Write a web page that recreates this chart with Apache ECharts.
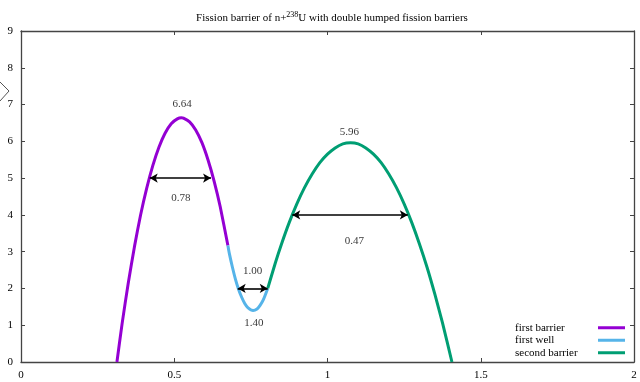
<!DOCTYPE html>
<html>
<head>
<meta charset="utf-8">
<script src="https://cdn.jsdelivr.net/npm/echarts@6/dist/echarts.min.js"></script>
<style>
  html, body { margin: 0; padding: 0; background: #fff; }
  #content { width: 640px; height: 382px; }
</style>
</head>
<body>
<div id="content"></div>
<script>
// curve points [x, energy]
var firstBarrier = [
  [0.313, 0], [0.33, 1.05], [0.35, 2.15], [0.37, 3.13], [0.39, 3.99], [0.41, 4.72],
  [0.43, 5.34], [0.45, 5.84], [0.47, 6.22], [0.49, 6.48], [0.51, 6.61], [0.523, 6.64],
  [0.53, 6.63], [0.55, 6.53], [0.57, 6.31], [0.59, 5.97], [0.61, 5.50], [0.63, 4.92],
  [0.65, 4.22], [0.675, 3.17]
];
var firstWell = [
  [0.675, 3.17], [0.68, 2.94], [0.69, 2.57], [0.70, 2.24], [0.71, 1.97], [0.72, 1.76],
  [0.73, 1.59], [0.74, 1.48], [0.757, 1.40], [0.77, 1.44], [0.78, 1.54], [0.79, 1.68],
  [0.805, 2.00]
];
var secondBarrier = [
  [0.805, 2.00], [0.83, 2.70], [0.85, 3.21], [0.875, 3.79], [0.90, 4.30], [0.925, 4.74],
  [0.95, 5.11], [0.975, 5.42], [1.0, 5.65], [1.025, 5.82], [1.05, 5.93], [1.075, 5.96],
  [1.10, 5.93], [1.125, 5.82], [1.15, 5.65], [1.175, 5.42], [1.20, 5.11], [1.225, 4.74],
  [1.25, 4.30], [1.275, 3.79], [1.30, 3.21], [1.325, 2.57], [1.35, 1.85], [1.375, 1.07],
  [1.406, 0]
];
// width arrows [x1, x2, y]
var arrows = [
  [0.42, 0.62, 5],
  [0.707, 0.805, 2],
  [0.885, 1.262, 4]
];
// annotation texts [x, y, text]
var notes = [
  [0.526, 7.02, "6.64"],
  [0.522, 4.45, "0.78"],
  [0.756, 2.48, "1.00"],
  [0.76, 1.06, "1.40"],
  [1.071, 6.25, "5.96"],
  [1.088, 3.28, "0.47"]
];
var seriesNames = ["first barrier", "first well", "second barrier"];
var colors = ["#9400d3", "#56b4e9", "#009e73"];
var xTicks = { min: 0, max: 2, interval: 0.5 };
var yTicks = { min: 0, max: 9, interval: 1 };

var serif = "Liberation Serif";
var chartDom = document.getElementById("content");
var myChart = echarts.init(chartDom);

function axisBase(extra) {
  var base = {
    type: "value",
    axisLine: { show: true, onZero: false, lineStyle: { color: "#444", width: 1.3 } },
    axisTick: { show: true, inside: true, length: 4, lineStyle: { color: "#444" } },
    splitLine: { show: false },
    axisLabel: { show: false }
  };
  return Object.assign(base, extra);
}

var option = {
  animation: false,
  backgroundColor: "#fff",
  title: {
    left: 327,
    textAlign: "center",
    top: 5,
    text: "{a|Fission barrier of n+}{s|238}{a|U with double humped fission barriers}",
    textStyle: {
      rich: {
        a: { fontFamily: serif, fontWeight: "normal", fontSize: 11, color: "#000", lineHeight: 16 },
        s: { fontFamily: serif, fontWeight: "normal", fontSize: 8, color: "#000", padding: [0, 0, 7, 0] }
      }
    }
  },
  grid: { left: 21, right: 6, top: 31, bottom: 20 },
  legend: {
    orient: "vertical",
    left: 510,
    bottom: 18,
    align: "right",
    itemWidth: 27,
    itemHeight: 3,
    itemGap: 0,
    icon: "rect",
    data: seriesNames,
    formatter: function (name) { return "{t|" + name + "}"; },
    textStyle: {
      fontFamily: serif, fontSize: 11, color: "#000", lineHeight: 12.5,
      rich: { t: { width: 78, align: "left", fontFamily: serif, fontSize: 11, color: "#000" } }
    }
  },
  xAxis: [
    axisBase({
      min: xTicks.min, max: xTicks.max, interval: xTicks.interval,
      axisLabel: { show: true, color: "#000", fontFamily: serif, fontSize: 11, margin: 8,
        formatter: function (v) { return String(v); } }
    }),
    axisBase({ position: "top", min: xTicks.min, max: xTicks.max, interval: xTicks.interval })
  ],
  yAxis: [
    axisBase({
      min: yTicks.min, max: yTicks.max, interval: yTicks.interval,
      axisLabel: { show: true, color: "#000", fontFamily: serif, fontSize: 11, margin: 8 }
    }),
    axisBase({ position: "right", min: yTicks.min, max: yTicks.max, interval: yTicks.interval })
  ],
  series: [
    {
      name: seriesNames[0], type: "line", data: firstBarrier, smooth: 0.2,
      showSymbol: false, lineStyle: { width: 3, color: colors[0] }, itemStyle: { color: colors[0] }, z: 3
    },
    {
      name: seriesNames[1], type: "line", data: firstWell, smooth: 0.2,
      showSymbol: false, lineStyle: { width: 3, color: colors[1] }, itemStyle: { color: colors[1] }, z: 3
    },
    {
      name: seriesNames[2], type: "line", data: secondBarrier, smooth: 0.2,
      showSymbol: false, lineStyle: { width: 3, color: colors[2] }, itemStyle: { color: colors[2] }, z: 3
    },
    {
      name: "arrows", type: "line", data: [], silent: true, z: 5,
      markLine: {
        silent: true,
        symbol: ["arrow", "arrow"],
        symbolSize: [7, 8],
        label: { show: false },
        lineStyle: { color: "#000", width: 1.6, type: "solid" },
        data: arrows.map(function (a) {
          return [{ coord: [a[0], a[2]] }, { coord: [a[1], a[2]] }];
        })
      }
    },
    {
      name: "notes", type: "scatter", data: notes, symbolSize: 0, silent: true,
      label: {
        show: true, position: "inside", color: "#000", fontFamily: serif, fontSize: 11,
        formatter: function (p) { return p.value[2]; }
      }
    }
  ],
  graphic: [
    {
      type: "polyline",
      shape: { points: [[0, 82], [9, 91], [0, 101]] },
      style: { stroke: "#555", lineWidth: 1, fill: null }
    }
  ]
};
myChart.setOption(option);
</script>
</body>
</html>
